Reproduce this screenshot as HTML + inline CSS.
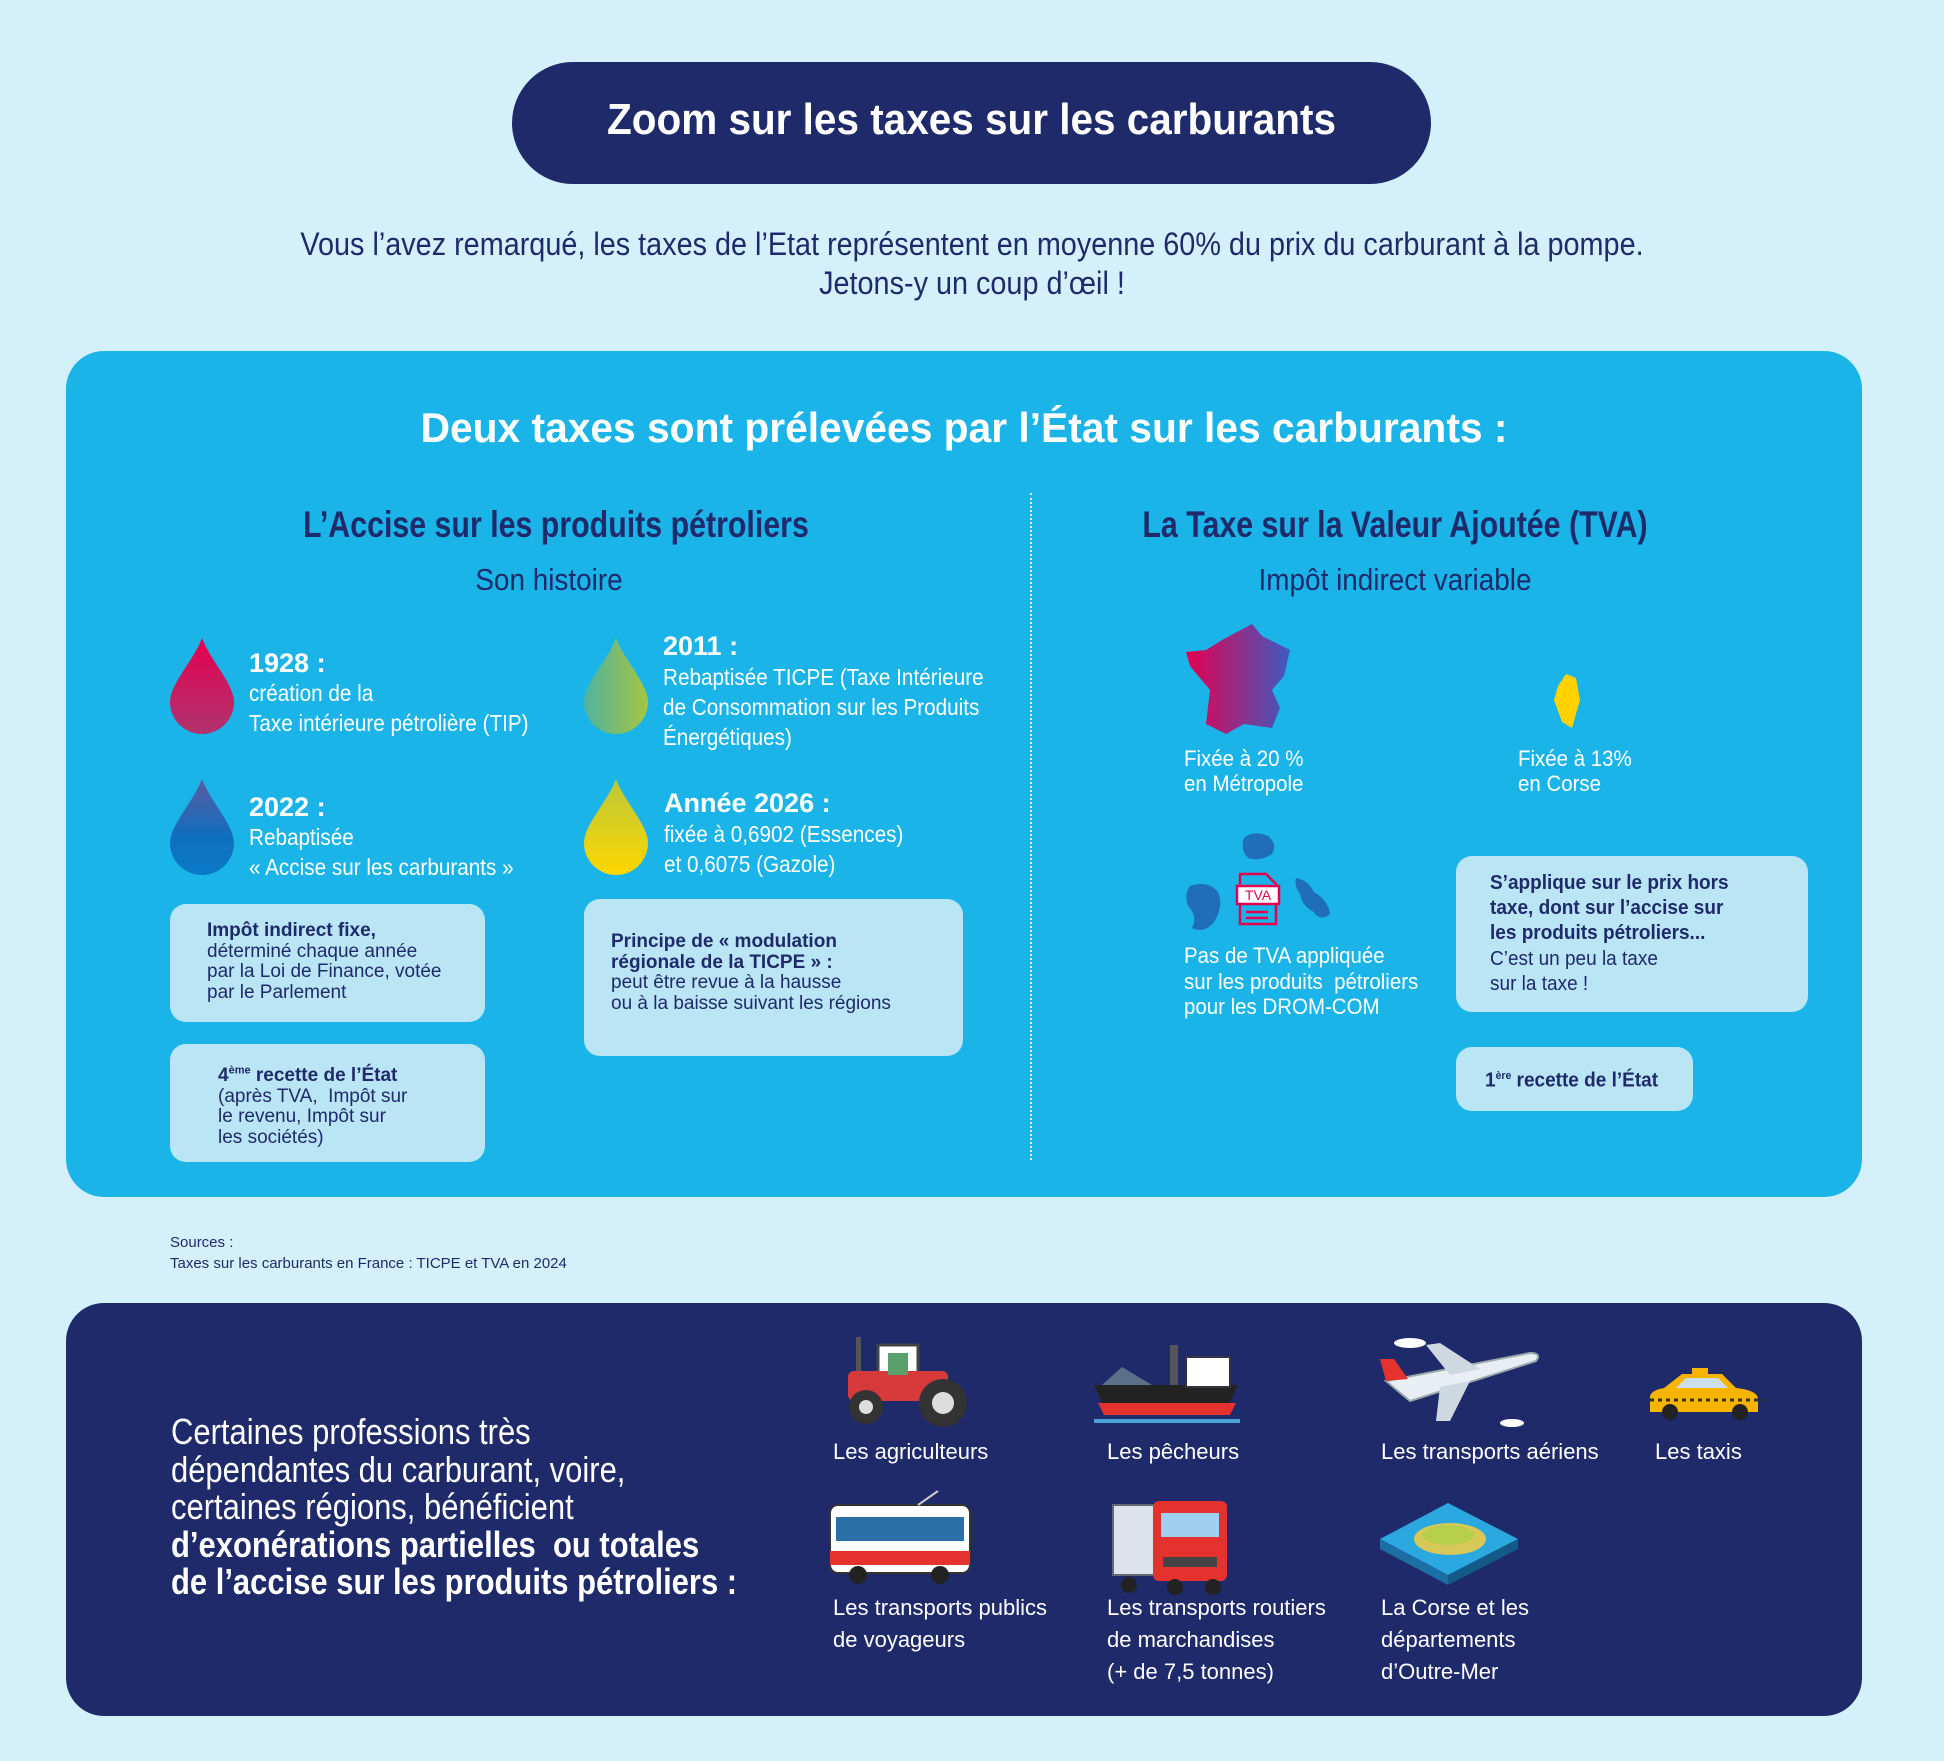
<!DOCTYPE html>
<html><head><meta charset="utf-8"><style>
*{margin:0;padding:0;box-sizing:border-box}
body{width:1944px;height:1761px;background:#d4f1fb;position:relative;overflow:hidden;font-family:"Liberation Sans Narrow","Liberation Sans",sans-serif;color:#1f2a6b}
.a{position:absolute;white-space:nowrap}
.c{text-align:center}
.box{position:absolute;background:#b9e5f5;border-radius:16px}
.w{color:#fff}
.b{font-weight:bold}
.lbl{position:absolute;color:#fff;font-size:22px;line-height:32px;white-space:nowrap}
.sx{transform-origin:left top}
.sc{transform-origin:center top}
</style></head><body>

<div class="a" style="left:512px;top:62px;width:919px;height:122px;background:#1f2a6b;border-radius:61px"></div>
<div class="a c w b sc" style="left:512px;top:95px;width:919px;font-size:44px;line-height:50px;transform:scaleX(0.92)">Zoom sur les taxes sur les carburants</div>
<div class="a c sc" style="left:0;top:224px;width:1944px;font-size:32px;line-height:40px;transform:scaleX(0.9)">Vous l’avez remarqué, les taxes de l’Etat représentent en moyenne 60% du prix du carburant à la pompe.</div>
<div class="a c sc" style="left:0;top:263px;width:1944px;font-size:32px;line-height:40px;transform:scaleX(0.9)">Jetons-y un coup d’œil !</div>

<div class="a" style="left:66px;top:351px;width:1796px;height:846px;background:#1ab4e8;border-radius:38px"></div>
<div class="a c w b sc" style="left:66px;top:403px;width:1796px;font-size:42px;line-height:50px;transform:scaleX(0.97)">Deux taxes sont prélevées par l’État sur les carburants :</div>
<div class="a" style="left:1030px;top:493px;height:667px;border-left:2px dotted #e8f7fd"></div>

<div class="a c b sc" style="left:249px;top:503px;width:600px;font-size:37px;line-height:44px;transform:scaleX(0.82)">L’Accise sur les produits pétroliers</div>
<div class="a c sc" style="left:249px;top:561px;width:600px;font-size:31px;line-height:38px;transform:scaleX(0.9)">Son histoire</div>
<div class="a c b sc" style="left:1045px;top:503px;width:700px;font-size:37px;line-height:44px;transform:scaleX(0.82)">La Taxe sur la Valeur Ajoutée (TVA)</div>
<div class="a c sc" style="left:1045px;top:561px;width:700px;font-size:31px;line-height:38px;transform:scaleX(0.9)">Impôt indirect variable</div>

<div class="a b w" style="left:249px;top:647px;font-size:27px;line-height:32px">1928 :</div>
<div class="a w sx" style="left:249px;top:678px;font-size:23px;line-height:30px;transform:scaleX(0.9)">création de la<br>Taxe intérieure pétrolière (TIP)</div>
<div class="a b w" style="left:249px;top:791px;font-size:27px;line-height:32px">2022 :</div>
<div class="a w sx" style="left:249px;top:822px;font-size:23px;line-height:30px;transform:scaleX(0.9)">Rebaptisée<br>« Accise sur les carburants »</div>
<div class="a b w" style="left:663px;top:630px;font-size:27px;line-height:32px">2011 :</div>
<div class="a w sx" style="left:663px;top:662px;font-size:23px;line-height:30px;transform:scaleX(0.9)">Rebaptisée TICPE (Taxe Intérieure<br>de Consommation sur les Produits<br>Énergétiques)</div>
<div class="a b w" style="left:664px;top:787px;font-size:27px;line-height:32px">Année 2026 :</div>
<div class="a w sx" style="left:664px;top:819px;font-size:23px;line-height:30px;transform:scaleX(0.9)">fixée à 0,6902 (Essences)<br>et 0,6075 (Gazole)</div>

<div class="box" style="left:170px;top:904px;width:315px;height:118px"></div>
<div class="a" style="left:207px;top:921px;font-size:19px;line-height:20.5px"><b>Impôt indirect fixe,</b><br>déterminé chaque année<br>par la Loi de Finance, votée<br>par le Parlement</div>
<div class="box" style="left:170px;top:1044px;width:315px;height:118px"></div>
<div class="a" style="left:218px;top:1061px;font-size:19px;line-height:20.5px"><b>4<sup style="font-size:11px">ème</sup> recette de l’État</b><br>(après TVA,&nbsp; Impôt sur<br>le revenu, Impôt sur<br>les sociétés)</div>
<div class="box" style="left:584px;top:899px;width:379px;height:157px"></div>
<div class="a" style="left:611px;top:932px;font-size:19px;line-height:20.5px"><b>Principe de « modulation<br>régionale de la TICPE » :</b><br>peut être revue à la hausse<br>ou à la baisse suivant les régions</div>

<div class="a w sx" style="left:1184px;top:746px;font-size:22px;line-height:25px;transform:scaleX(0.93)">Fixée à 20 %<br>en Métropole</div>
<div class="a w sx" style="left:1518px;top:746px;font-size:22px;line-height:25px;transform:scaleX(0.93)">Fixée à 13%<br>en Corse</div>
<div class="a w sx" style="left:1184px;top:943px;font-size:22px;line-height:25.5px;transform:scaleX(0.93)">Pas de TVA appliquée<br>sur les produits&nbsp; pétroliers<br>pour les DROM-COM</div>
<div class="box" style="left:1456px;top:856px;width:352px;height:156px"></div>
<div class="a sx" style="left:1490px;top:871px;font-size:20px;line-height:25.2px;transform:scaleX(0.95)"><b>S’applique sur le prix hors<br>taxe, dont sur l’accise sur<br>les produits pétroliers...</b><br>C’est un peu la taxe<br>sur la taxe !</div>
<div class="box" style="left:1456px;top:1047px;width:237px;height:64px"></div>
<div class="a b sx" style="left:1485px;top:1063px;font-size:20px;line-height:26px;transform:scaleX(0.95)">1<sup style="font-size:11px">ère</sup> recette de l’État</div>

<div class="a" style="left:170px;top:1232px;font-size:15px;line-height:21px">Sources :<br>Taxes sur les carburants en France : TICPE et TVA en 2024</div>

<div class="a" style="left:66px;top:1303px;width:1796px;height:413px;background:#1f2a6b;border-radius:38px"></div>
<div class="a w sx" style="left:171px;top:1413px;font-size:36px;line-height:37.6px;transform:scaleX(0.86)">Certaines professions très<br>dépendantes du carburant, voire,<br>certaines régions, bénéficient<br><b>d’exonérations partielles&nbsp; ou totales<br>de l’accise sur les produits pétroliers :</b></div>

<div class="lbl" style="left:833px;top:1436px">Les agriculteurs</div>
<div class="lbl" style="left:1107px;top:1436px">Les pêcheurs</div>
<div class="lbl" style="left:1381px;top:1436px">Les transports aériens</div>
<div class="lbl" style="left:1655px;top:1436px">Les taxis</div>
<div class="lbl" style="left:833px;top:1592px">Les transports publics<br>de voyageurs</div>
<div class="lbl" style="left:1107px;top:1592px">Les transports routiers<br>de marchandises<br>(+ de 7,5 tonnes)</div>
<div class="lbl" style="left:1381px;top:1592px">La Corse et les<br>départements<br>d’Outre-Mer</div>

<svg class="a" style="left:0;top:0;z-index:5" width="1944" height="1761">
<defs>
<linearGradient id="g1" x1="0" y1="0" x2="0" y2="1"><stop offset="0" stop-color="#e5004f"/><stop offset="1" stop-color="#b0336f"/></linearGradient>
<linearGradient id="g2" x1="0" y1="0" x2="0" y2="1"><stop offset="0" stop-color="#5c5aa0"/><stop offset=".6" stop-color="#0f6fbf"/><stop offset="1" stop-color="#0a7ac8"/></linearGradient>
<linearGradient id="g3" x1="0" y1="0" x2="1" y2="0"><stop offset="0" stop-color="#4fb3a0"/><stop offset="1" stop-color="#a6c540"/></linearGradient>
<linearGradient id="g4" x1="0" y1="0" x2="0" y2="1"><stop offset="0" stop-color="#b9c83a"/><stop offset="1" stop-color="#ffd700"/></linearGradient>
<linearGradient id="gf" x1="0" y1="0" x2="1" y2="0"><stop offset="0" stop-color="#e5004f"/><stop offset="1" stop-color="#3d5bc0"/></linearGradient>
<path id="drop" d="M32 0 C24 22 0 46 0 64 A32 32 0 0 0 64 64 C64 46 40 22 32 0Z"/>
</defs>
<use href="#drop" transform="translate(170,638)" fill="url(#g1)"/>
<use href="#drop" transform="translate(170,779)" fill="url(#g2)"/>
<use href="#drop" transform="translate(584,638)" fill="url(#g3)"/>
<use href="#drop" transform="translate(584,779)" fill="url(#g4)"/>
<path d="M1222 640 L1252 624 L1262 636 L1290 650 L1284 676 L1272 690 L1280 708 L1272 728 L1244 724 L1226 734 L1206 724 L1210 690 L1190 666 L1186 652 L1206 650Z" fill="url(#gf)"/>
<path d="M1566 674 L1576 678 L1580 700 L1572 728 L1562 722 L1554 700 L1558 686Z" fill="#ffd200"/>
<path d="M1244 838 q10 -8 24 -2 q10 8 4 18 q-12 8 -24 4 q-8 -8 -4 -20Z" fill="#1f6eb7"/>
<path d="M1190 886 q18 -6 28 6 q6 14 -4 30 q-10 12 -22 6 q6 -12 -4 -22 q-4 -12 2 -20Z" fill="#1f6eb7"/>
<path d="M1296 878 q12 2 18 14 q14 8 16 22 q-10 8 -16 -2 q-12 -6 -14 -18 q-6 -8 -4 -16Z" fill="#1f6eb7"/>
<g fill="none" stroke="#e5004f" stroke-width="2.5"><path d="M1240 874 h26 l10 10 v40 h-36z"/><rect x="1237" y="886" width="42" height="18" fill="#fff"/><path d="M1246 912 h22 M1246 918 h22"/></g>
<text x="1258" y="900" font-size="14" fill="#e5004f" text-anchor="middle" font-family="Liberation Sans">TVA</text>
<g transform="translate(838,1337)"><rect x="40" y="8" width="40" height="36" fill="#fff" stroke="#444" stroke-width="3"/><rect x="10" y="34" width="100" height="30" rx="6" fill="#d73a3a"/><rect x="18" y="0" width="5" height="34" fill="#555"/><circle cx="105" cy="66" r="24" fill="#333"/><circle cx="105" cy="66" r="11" fill="#ddd"/><circle cx="28" cy="70" r="17" fill="#333"/><circle cx="28" cy="70" r="7" fill="#ddd"/><rect x="50" y="16" width="20" height="22" fill="#5aa06a"/></g>
<g transform="translate(1094,1345)"><path d="M0 40 h144 l-14 30 h-116z" fill="#222"/><path d="M4 58 h138 l-6 12 h-126z" fill="#e5322e"/><rect x="92" y="12" width="44" height="30" fill="#fff" stroke="#334" stroke-width="2"/><rect x="76" y="0" width="8" height="40" fill="#555"/><path d="M8 40 l20 -18 l30 18z" fill="#5a6f88"/><path d="M0 76 h146" stroke="#4aa3d8" stroke-width="4"/></g>
<g transform="translate(1380,1341)"><path d="M6 40 L150 12 q12 0 6 8 L30 60 z" fill="#e8eef4" stroke="#9aa" stroke-width="2"/><path d="M70 34 l30 -6 l-40 -26 l-14 2z" fill="#cfd8e0"/><path d="M60 46 l30 -6 l-20 40 l-14 0z" fill="#cfd8e0"/><path d="M6 40 l-6 -22 l14 0 l14 20z" fill="#e5322e"/><ellipse cx="30" cy="2" rx="16" ry="5" fill="#fff"/><ellipse cx="132" cy="82" rx="12" ry="4" fill="#fff"/></g>
<g transform="translate(1646,1374)"><path d="M4 22 q2 -6 14 -8 l18 -14 h40 l14 14 q20 2 22 10 v14 h-108z" fill="#f7b500"/><path d="M40 4 h32 l10 10 h-52z" fill="#cde"/><rect x="46" y="-6" width="16" height="6" fill="#f7b500"/><circle cx="24" cy="38" r="8" fill="#222"/><circle cx="94" cy="38" r="8" fill="#222"/><path d="M4 26 h120" stroke="#333" stroke-width="3" stroke-dasharray="4 4"/></g>
<g transform="translate(828,1497)"><rect x="2" y="8" width="140" height="68" rx="8" fill="#fff" stroke="#333" stroke-width="2"/><rect x="8" y="20" width="128" height="24" fill="#2b6fa8"/><rect x="2" y="54" width="140" height="14" fill="#e5322e"/><circle cx="30" cy="78" r="9" fill="#222"/><circle cx="112" cy="78" r="9" fill="#222"/><path d="M90 8 l20 -14" stroke="#ccc" stroke-width="2"/></g>
<g transform="translate(1113,1497)"><rect x="0" y="8" width="50" height="70" fill="#dde3ea" stroke="#667" stroke-width="2"/><rect x="40" y="4" width="74" height="80" rx="6" fill="#e5322e"/><rect x="48" y="16" width="58" height="24" fill="#9fd0f0"/><rect x="50" y="60" width="54" height="10" fill="#444"/><circle cx="62" cy="90" r="8" fill="#222"/><circle cx="100" cy="90" r="8" fill="#222"/><circle cx="16" cy="88" r="8" fill="#222"/></g>
<g transform="translate(1380,1503)"><path d="M0 36 L68 0 L138 36 L68 72z" fill="#2aa8df"/><path d="M0 36 L68 72 L68 82 L0 46z" fill="#1b6fa4"/><path d="M138 36 L68 72 L68 82 L138 46z" fill="#145a88"/><ellipse cx="70" cy="36" rx="36" ry="16" fill="#d8c85a"/><ellipse cx="68" cy="32" rx="26" ry="10" fill="#b7cf4a"/></g>
</svg>
</body></html>
